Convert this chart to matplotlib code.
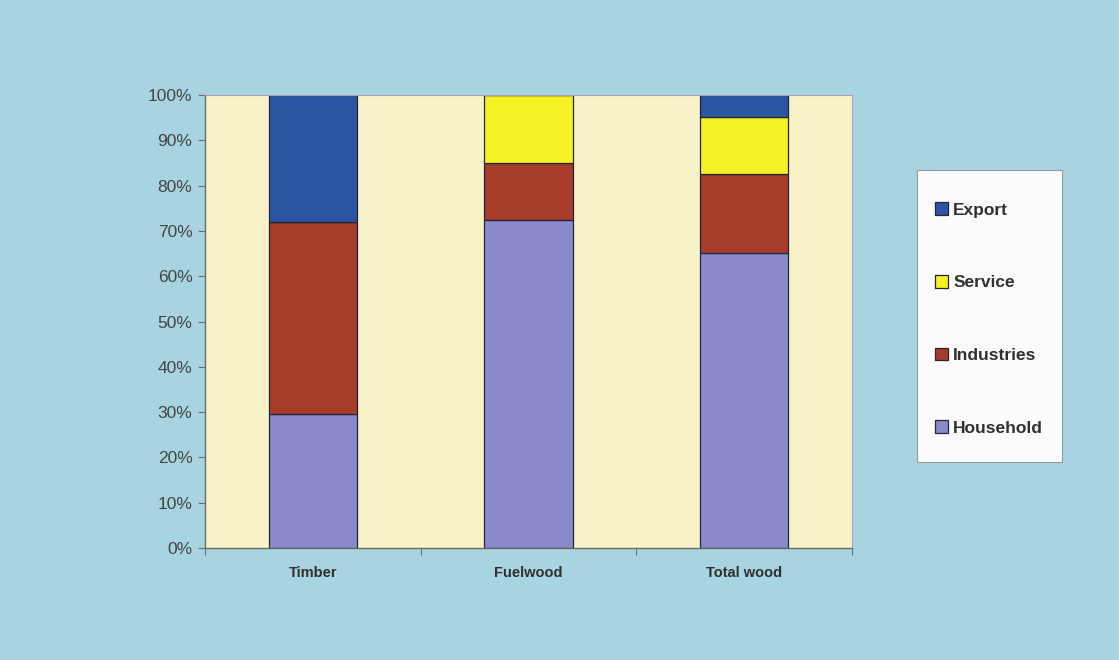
import numpy as np
import matplotlib
matplotlib.use("Agg")
import matplotlib.pyplot as plt
from matplotlib.patches import Patch, Rectangle

plt.rcParams['font.family'] = ['Liberation Sans', 'DejaVu Sans']

# données (parts en %)
categories = ['Timber', 'Fuelwood', 'Total wood']
household = [29.6, 72.4, 65.1]
industries = [42.4, 12.6, 17.5]
service = [0.0, 15.0, 12.5]
export = [28.0, 0.0, 4.9]

series = [('Household', household, '#8a8acb'),
          ('Industries', industries, '#a83c2a'),
          ('Service', service, '#f6f122'),
          ('Export', export, '#2b55a2')]

fig = plt.figure(figsize=(11.19, 6.6), dpi=100)
fig.patch.set_facecolor('#a7d4e0')
ax = fig.add_axes([205/1119, 1-548/660, (852-205)/1119, (548-95)/660])
ax.set_facecolor('#f7f2c8')

x = np.arange(len(categories))
bottom = np.zeros(len(categories))
handles = {}
for name, vals, col in series:
    vals = np.array(vals)
    ax.bar(x, vals, width=0.41, bottom=bottom, color=col,
           edgecolor='#23233a', linewidth=0.9, zorder=2)
    handles[name] = Patch(facecolor=col, edgecolor='#23233a', linewidth=0.9)
    bottom = bottom + vals

ax.set_xlim(-0.5, 2.5)
ax.set_ylim(0, 100)
ax.set_yticks(np.arange(0, 101, 10))
ax.set_yticklabels([f'{v}%' for v in range(0, 101, 10)], fontsize=12.5, color='#444444')
ax.tick_params(axis='y', direction='out', length=5, color='#707070', pad=4)

# ticks aux limites des catégories, étiquettes au centre
ax.set_xticks([-0.5, 0.5, 1.5, 2.5])
ax.set_xticklabels([])
ax.tick_params(axis='x', which='major', direction='out', length=5, color='#707070')
ax.set_xticks(x, minor=True)
ax.set_xticklabels(categories, minor=True, fontsize=10.5, fontweight='bold', color='#303030')
ax.tick_params(axis='x', which='minor', length=0, pad=13)

for side in ['left', 'bottom']:
    ax.spines[side].set_color('#6a6a6a')
    ax.spines[side].set_linewidth(1.0)
for side in ['top', 'right']:
    ax.spines[side].set_color('#b0a0b0')
    ax.spines[side].set_linewidth(0.8)

# légende
fig.patches.append(Rectangle((917/1119, 1-462/660), (1062-917)/1119, (462-170)/660,
                             transform=fig.transFigure, facecolor='#fbfbfb',
                             edgecolor='#9a9a9a', linewidth=0.8))
order = ['Export', 'Service', 'Industries', 'Household']
fig.legend([handles[n] for n in order], order, loc='center left',
           bbox_to_anchor=(935/1119, 1-319/660), frameon=False,
           prop={'size': 12.5, 'weight': 'bold'}, labelcolor='#303030',
           handlelength=0.75, handleheight=0.75, handletextpad=0.3,
           labelspacing=3.3, borderpad=0, borderaxespad=0)

plt.savefig('out.png', dpi=100, facecolor=fig.get_facecolor())
